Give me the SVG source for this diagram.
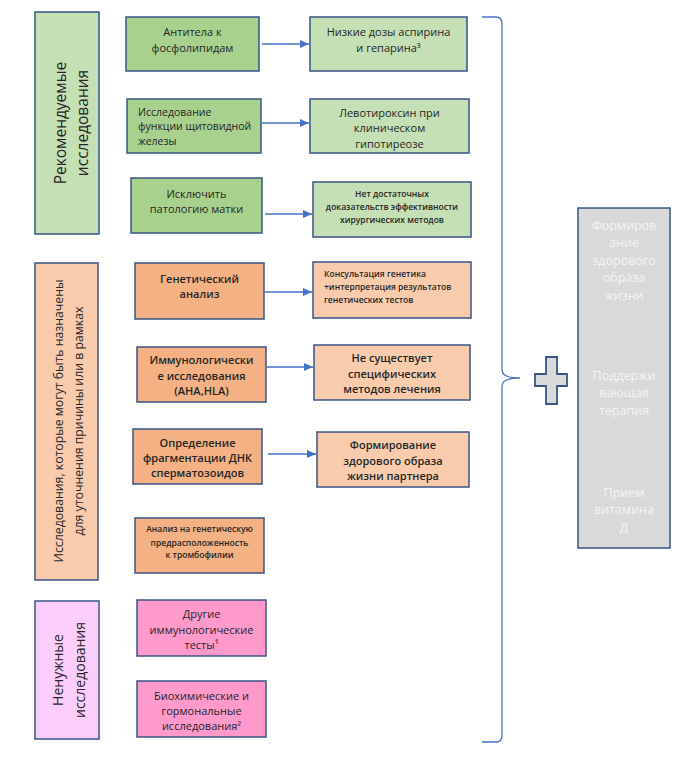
<svg xmlns="http://www.w3.org/2000/svg" width="700" height="763" viewBox="0 0 700 763">
<style>
  text { font-family: "Open Sans", "Liberation Sans", sans-serif; fill: #262626; }
  .box { stroke: #3a5487; stroke-width: 1.5; }
  .dg { fill: #a9d18e; }
  .lg { fill: #c5e0b4; }
  .do { fill: #f4b183; }
  .lo { fill: #f8cbad; }
  .dp { fill: #ff99cc; }
  .lp { fill: #fbcdfb; }
  .gr { fill: #d9d9d9; }
  .t { font-size: 11px; text-anchor: middle; }
  .tb { font-size: 11px; text-anchor: middle; font-weight: 600; }
  .s { font-size: 8.5px; text-anchor: middle; font-weight: 600; }
  .sl { font-size: 8.5px; font-weight: 600; }
  .l { font-size: 10.5px; }
  .w { font-size: 12.5px; text-anchor: middle; fill: #f4f4f4; }
  .conn { stroke: #4472c4; stroke-width: 1.3; fill: none; }
</style>
<defs>
  <marker id="ah" markerUnits="userSpaceOnUse" markerWidth="9" markerHeight="8" refX="9" refY="4" orient="auto">
    <path d="M0,0 L9,4 L0,8 z" fill="#4472c4"/>
  </marker>
</defs>
<rect width="700" height="763" fill="#ffffff"/>

<g id="label-recommended">
  <rect class="box lg" x="35" y="12" width="64" height="222"/>
  <g transform="translate(67,123) rotate(-90)">
    <text x="0" y="-1" style="font-size:15.5px;text-anchor:middle">Рекомендуемые</text>
    <text x="0" y="21" style="font-size:15.5px;text-anchor:middle">исследования</text>
  </g>
</g>
<g id="label-optional">
  <rect class="box lo" x="35" y="263" width="63" height="317"/>
  <g transform="translate(66.5,421) rotate(-90)">
    <text x="0" y="-3.5" style="font-size:12.3px;text-anchor:middle">Исследования, которые могут быть назначены</text>
    <text x="0" y="16.5" style="font-size:12.3px;text-anchor:middle">для уточнения причины или в рамках</text>
  </g>
</g>
<g id="label-unneeded">
  <rect class="box lp" x="35" y="601" width="64" height="138"/>
  <g transform="translate(67,670) rotate(-90)">
    <text x="0" y="-4" style="font-size:14px;text-anchor:middle">Ненужные</text>
    <text x="0" y="18" style="font-size:14px;text-anchor:middle">исследования</text>
  </g>
</g>

<g id="n-antiphospho">
  <rect class="box dg" x="126" y="17" width="133" height="54"/>
  <text class="t" x="192.5" y="36">Антитела к</text>
  <text class="t" x="192.5" y="52">фосфолипидам</text>
</g>
<g id="n-thyroid">
  <rect class="box dg" x="127" y="99" width="134" height="54"/>
  <text class="l" x="138" y="116">Исследование</text>
  <text class="l" x="138" y="130">функции щитовидной</text>
  <text class="l" x="138" y="145">железы</text>
</g>
<g id="n-uterus">
  <rect class="box dg" x="131" y="178" width="131" height="55"/>
  <text class="t" x="196.5" y="198">Исключить</text>
  <text class="t" x="196.5" y="213">патологию матки</text>
</g>
<g id="n-genetic">
  <rect class="box do" x="135" y="263" width="129" height="56"/>
  <text class="tb" x="199.5" y="283">Генетический</text>
  <text class="tb" x="199.5" y="298">анализ</text>
</g>
<g id="n-immuno">
  <rect class="box do" x="137" y="347" width="129" height="55"/>
  <text class="tb" x="201.5" y="364">Иммунологически</text>
  <text class="tb" x="201.5" y="380">е исследования</text>
  <text class="tb" x="201.5" y="395">(АНА,HLA)</text>
</g>
<g id="n-dna">
  <rect class="box do" x="133" y="429" width="129" height="55"/>
  <text class="tb" x="197.5" y="447">Определение</text>
  <text class="tb" x="197.5" y="462">фрагментации ДНК</text>
  <text class="tb" x="197.5" y="477">сперматозоидов</text>
</g>
<g id="n-thrombo">
  <rect class="box do" x="135" y="518" width="129" height="55"/>
  <text class="s" x="199.5" y="532">Анализ на генетическую</text>
  <text class="s" x="199.5" y="546">предрасположенность</text>
  <text class="s" x="199.5" y="558">к тромбофилии</text>
</g>
<g id="n-other-immuno">
  <rect class="box dp" x="137" y="600" width="129" height="56"/>
  <text class="t" x="201.5" y="618">Другие</text>
  <text class="t" x="201.5" y="634">иммунологические</text>
  <text class="t" x="201.5" y="649">тесты¹</text>
</g>
<g id="n-biochem">
  <rect class="box dp" x="137" y="681" width="129" height="56"/>
  <text class="t" x="201.5" y="700">Биохимические и</text>
  <text class="t" x="201.5" y="715">гормональные</text>
  <text class="t" x="201.5" y="730">исследования²</text>
</g>

<g id="n-aspirin">
  <rect class="box lg" x="310" y="17" width="157" height="54"/>
  <text class="t" x="388.5" y="36">Низкие дозы аспирина</text>
  <text class="t" x="388.5" y="52">и гепарина³</text>
</g>
<g id="n-levothyroxine">
  <rect class="box lg" x="310" y="99" width="159" height="54"/>
  <text class="t" x="389.5" y="117">Левотироксин при</text>
  <text class="t" x="389.5" y="132">клиническом</text>
  <text class="t" x="389.5" y="148">гипотиреозе</text>
</g>
<g id="n-surgery">
  <rect class="box lg" x="313" y="182" width="158" height="55"/>
  <text class="s" x="392" y="197">Нет достаточных</text>
  <text class="s" x="392" y="210">доказательств эффективности</text>
  <text class="s" x="392" y="223">хирургических методов</text>
</g>
<g id="n-consult">
  <rect class="box lo" x="313" y="262" width="158" height="56"/>
  <text class="sl" x="324" y="277">Консультация генетика</text>
  <text class="sl" x="324" y="290">+интерпретация результатов</text>
  <text class="sl" x="324" y="303">генетических тестов</text>
</g>
<g id="n-nospecific">
  <rect class="box lo" x="314" y="345" width="156" height="55"/>
  <text class="tb" x="392" y="362">Не существует</text>
  <text class="tb" x="392" y="378">специфических</text>
  <text class="tb" x="392" y="393">методов лечения</text>
</g>
<g id="n-lifestyle-partner">
  <rect class="box lo" x="317" y="432" width="152" height="55"/>
  <text class="tb" x="393" y="449">Формирование</text>
  <text class="tb" x="393" y="465">здорового образа</text>
  <text class="tb" x="393" y="480">жизни партнера</text>
</g>

<g id="n-plus">
  <polygon points="546,357 557,357 557,374 567,374 567,386 557,386 557,404 546,404 546,386 535,386 535,374 546,374" fill="#d9d9d9" stroke="#3a5487" stroke-width="1.8"/>
</g>
<g id="n-therapy">
  <rect class="box gr" x="578" y="208" width="92" height="340"/>
  <text class="w" x="624" y="229.5">Формиров</text>
  <text class="w" x="624" y="247">ание</text>
  <text class="w" x="624" y="264.5">здорового</text>
  <text class="w" x="624" y="282">образа</text>
  <text class="w" x="624" y="299.5">жизни</text>
  <text class="w" x="624" y="379.5">Поддержи</text>
  <text class="w" x="624" y="397">вающая</text>
  <text class="w" x="624" y="414.5">терапия</text>
  <text class="w" x="624" y="496.5">Прием</text>
  <text class="w" x="624" y="514">витамина</text>
  <text class="w" x="624" y="531.5">Д</text>
</g>

<g id="connectors">
  <line class="conn" x1="262" y1="44" x2="309" y2="44" marker-end="url(#ah)"/>
  <line class="conn" x1="262" y1="123" x2="309" y2="123" marker-end="url(#ah)"/>
  <line class="conn" x1="265" y1="214" x2="312" y2="214" marker-end="url(#ah)"/>
  <line class="conn" x1="265" y1="292" x2="312" y2="292" marker-end="url(#ah)"/>
  <line class="conn" x1="267" y1="367" x2="313" y2="367" marker-end="url(#ah)"/>
  <line class="conn" x1="268" y1="454" x2="316" y2="454" marker-end="url(#ah)"/>
  <path class="conn" stroke-width="1.1" d="M482,17 L496,17 Q502,17 502,24 L502,370 Q502,378 520,378 Q502,378 502,386 L502,735 Q502,742 496,742 L482,742"/>
</g>
</svg>
